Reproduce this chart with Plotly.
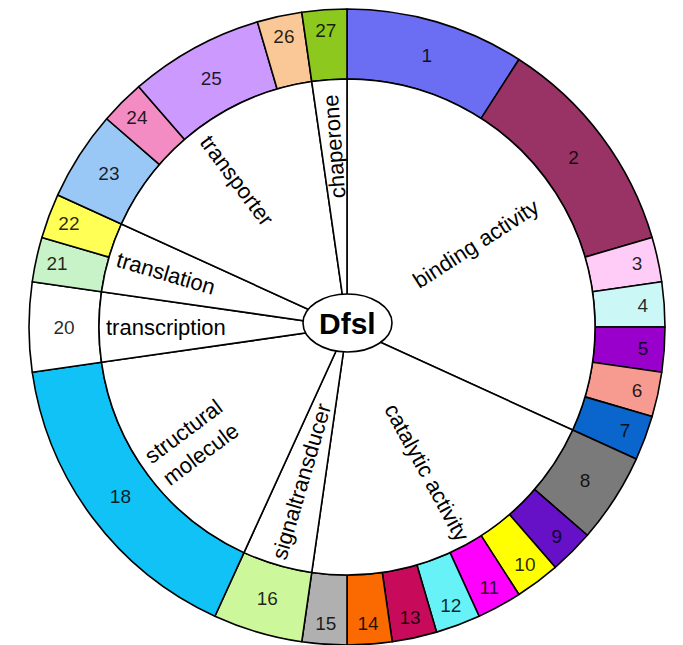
import math
import plotly.graph_objects as go

# Outer ring: segment ids and their counts (read from arc widths)
segment_ids = ["1", "2", "3", "4", "5", "6", "7", "8", "9", "10", "11", "12", "13",
               "14", "15", "16", "18", "20", "21", "22", "23", "24", "25", "26", "27"]
segment_counts = [4, 5, 1, 1, 1, 1, 1, 2, 1, 1, 1, 1, 1,
                  1, 1, 2, 7, 2, 1, 1, 2, 1, 3, 1, 1]
segment_colors = ["#6b6ef2", "#993366", "#ffccf7", "#ccf7f7", "#9900cc", "#f79a90",
                  "#0a66cc", "#7a7a7a", "#6610c8", "#ffff00", "#ff00ff", "#66f2f7",
                  "#c80a5a", "#fa6a00", "#b0b0b0", "#ccf79a", "#10c2f5", "#ffffff",
                  "#c8f2c8", "#ffff55", "#99c8f7", "#f28cc2", "#cc99ff", "#fac896",
                  "#8cc81e"]

# Inner disc: functional categories (sum of their segments)
categories = ["binding activity", "catalytic activity", "signaltransducer",
              "structural molecule", "transcription", "translation",
              "transporter", "chaperone"]
category_labels = ["binding activity", "catalytic activity", "signaltransducer",
                   "structural<br>molecule", "transcription", "translation",
                   "transporter", "chaperone"]
category_counts = [14, 9, 2, 7, 2, 2, 7, 1]

center_label = "Dfsl"

# ---- layout / style settings ----
W, H = 683, 645
cx, cy = 347, 327          # pixel centre (from top-left)
R_out = 318
hole = 0.78
R_in = R_out * hole
# radial placement of each category label, as a fraction of the inner radius
label_radius_frac = [0.62, 0.67, 0.65, 0.78, 0.73, 0.76, 0.74, 0.73]

def dom(r):
    return dict(x=[max(0, (cx - r) / W), min(1, (cx + r) / W)],
                y=[max(0, (H - cy - r) / H), min(1, (H - cy + r) / H)])

FONT = "Arial, Liberation Sans, Helvetica, sans-serif"

fig = go.Figure()
fig.add_trace(go.Pie(
    labels=segment_ids, values=segment_counts, text=segment_ids,
    textinfo="text", textposition="inside", insidetextorientation="horizontal",
    sort=False, direction="clockwise", rotation=0, hole=hole,
    marker=dict(colors=segment_colors, line=dict(color="black", width=1.6)),
    textfont=dict(family=FONT, size=19, color="rgba(0,0,0,0.85)"),
    domain=dom(R_out), showlegend=False, hoverinfo="label+value",
))
fig.add_trace(go.Pie(
    labels=categories, values=category_counts,
    textinfo="none",
    sort=False, direction="clockwise", rotation=0,
    marker=dict(colors=["white"] * len(categories), line=dict(color="black", width=1.6)),
    domain=dom(R_in), showlegend=False, hoverinfo="label+value",
))

# Category labels: radial text at each category's mid-angle
total = sum(category_counts)
acc = 0
for lab, v, rf in zip(category_labels, category_counts, label_radius_frac):
    mid = (acc + v / 2) / total * 360.0      # clockwise from 12 o'clock
    acc += v
    r = rf * R_in
    px = cx + r * math.sin(math.radians(mid))
    py = cy - r * math.cos(math.radians(mid))
    ang = (mid - 90.0) % 360.0
    if ang > 180:
        ang -= 360
    if ang > 80:
        ang -= 180
    elif ang <= -100:
        ang += 180
    fig.add_annotation(x=px / W, y=(H - py) / H, xref="paper", yref="paper",
                       text=lab, showarrow=False, textangle=ang,
                       font=dict(family=FONT, size=22, color="black"),
                       xanchor="center", yanchor="middle", align="center")

ex, ey, erx, ery = 347.5, 323, 44.5, 29
fig.add_shape(type="circle", xref="paper", yref="paper",
              x0=(ex - erx) / W, x1=(ex + erx) / W,
              y0=(H - ey - ery) / H, y1=(H - ey + ery) / H,
              fillcolor="white", line=dict(color="black", width=1.6), layer="above")
fig.add_annotation(x=ex / W, y=(H - ey) / H, xref="paper", yref="paper",
                   text="<b>" + center_label + "</b>", showarrow=False,
                   font=dict(family=FONT, size=30, color="black"))

fig.update_layout(width=W, height=H, margin=dict(l=0, r=0, t=0, b=0),
                  paper_bgcolor="white", plot_bgcolor="white",
                  uniformtext=dict(minsize=19, mode="show"))
fig.write_html("out.html", config={"displayModeBar": False},
               post_script="document.body.style.margin='0px';document.body.style.overflow='hidden';")
